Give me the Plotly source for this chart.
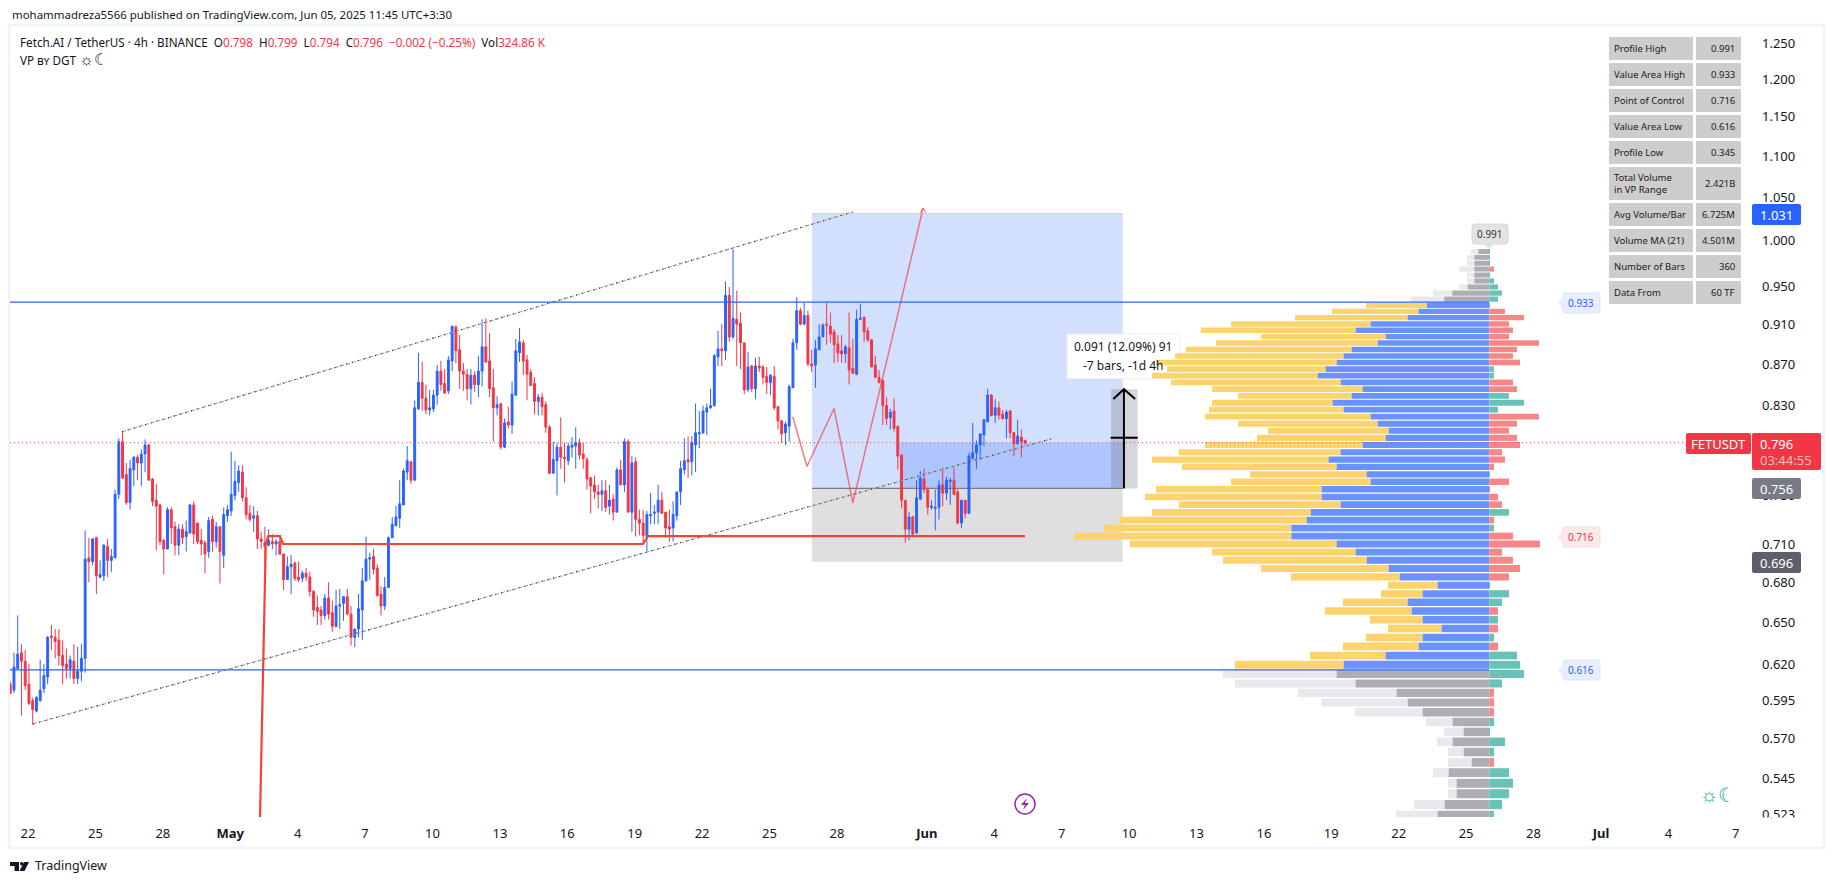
import numpy as np
import pandas as pd
import plotly.graph_objects as go

# 4h FET/USDT candles
opens = [
    .606,.602,.617,.628,.622,.606,.595,.588,.595,.603,.611,.640,.639,.637,.626,.620,.617,.622,.610,.615,
    .624,.699,.696,.715,.684,.685,.708,.697,.699,.751,.797,.768,.744,.772,.783,.778,.786,.794,.764,.746,
    .742,.713,.706,.738,.724,.709,.722,.716,.719,.742,.727,.713,.711,.704,.730,.712,.724,.701,.733,.737,
    .750,.761,.770,.748,.735,.731,.733,.714,.711,.709,.712,.710,.712,.702,.682,.692,.695,.684,.683,.687,
    .684,.673,.661,.659,.655,.668,.657,.647,.662,.664,.669,.656,.639,.645,.659,.681,.698,.700,.691,.671,
    .662,.676,.715,.725,.731,.742,.770,.779,.763,.827,.852,.837,.826,.827,.840,.863,.851,.844,.873,.907,
    .884,.863,.860,.846,.859,.850,.863,.887,.873,.847,.828,.832,.792,.815,.812,.840,.881,.891,.874,.862,
    .851,.834,.838,.831,.810,.769,.780,.792,.783,.780,.792,.793,.796,.786,.781,.765,.759,.753,.751,.754,
    .741,.747,.736,.772,.759,.797,.736,.779,.730,.727,.716,.733,.735,.736,.746,.736,.724,.723,.733,.753,
    .772,.781,.779,.794,.804,.805,.824,.828,.830,.877,.885,.883,.940,.897,.915,.911,.891,.845,.868,.846,
    .868,.867,.858,.852,.858,.829,.816,.805,.811,.847,.891,.924,.910,.919,.870,.869,.884,.897,.910,.908,
    .902,.890,.883,.880,.886,.866,.860,.915,.917,.903,.894,.869,.857,.854,.830,.819,.825,.811,.785,.746,
    .722,.732,.719,.747,.764,.755,.740,.739,.740,.759,.752,.762,.763,.753,.727,.746,.735,.782,.787,.794,
    .803,.815,.840,.821,.828,.822,.818,.825,.805,.795,.801,.798]
highs = [
    .608,.628,.655,.634,.630,.620,.597,.598,.623,.620,.640,.648,.645,.645,.637,.631,.626,.634,.632,.634,
    .721,.715,.715,.716,.697,.710,.714,.706,.755,.800,.806,.778,.781,.784,.785,.790,.799,.795,.765,.760,
    .743,.714,.740,.740,.728,.726,.726,.729,.743,.745,.727,.722,.713,.732,.733,.728,.724,.740,.742,.788,
    .780,.776,.776,.757,.742,.741,.737,.720,.724,.722,.718,.714,.716,.702,.700,.701,.696,.696,.689,.691,
    .688,.674,.670,.662,.671,.680,.666,.674,.675,.669,.675,.662,.645,.671,.691,.716,.703,.706,.694,.677,
    .684,.716,.732,.741,.763,.773,.793,.780,.835,.881,.872,.850,.845,.845,.869,.873,.865,.878,.908,.909,
    .899,.871,.865,.865,.863,.878,.915,.916,.901,.865,.839,.832,.818,.829,.853,.895,.906,.894,.879,.865,
    .857,.841,.842,.834,.812,.797,.796,.819,.796,.796,.801,.810,.800,.796,.783,.766,.767,.759,.763,.763,
    .759,.751,.774,.781,.800,.799,.784,.783,.738,.738,.737,.752,.742,.759,.753,.736,.738,.745,.753,.780,
    .800,.802,.802,.832,.825,.830,.832,.846,.880,.903,.910,.955,.949,.991,.945,.922,.891,.882,.869,.876,
    .877,.869,.867,.860,.868,.830,.816,.815,.850,.895,.938,.927,.932,.924,.884,.894,.910,.911,.932,.922,
    .905,.899,.899,.889,.922,.895,.925,.931,.918,.907,.895,.878,.864,.855,.838,.827,.837,.811,.785,.746,
    .736,.733,.763,.771,.773,.757,.746,.755,.763,.774,.766,.765,.774,.755,.746,.746,.787,.814,.798,.804,
    .817,.846,.841,.836,.834,.826,.826,.826,.806,.817,.808,.799]
lows = [
    .599,.600,.616,.585,.602,.592,.579,.587,.594,.600,.606,.630,.624,.619,.606,.610,.610,.606,.606,.608,
    .614,.680,.693,.671,.683,.681,.684,.688,.699,.747,.764,.742,.738,.758,.763,.758,.770,.763,.741,.705,
    .709,.686,.706,.710,.701,.701,.710,.704,.718,.710,.710,.701,.687,.699,.704,.707,.679,.691,.728,.733,
    .746,.753,.745,.730,.728,.720,.706,.706,.692,.708,.706,.701,.701,.674,.682,.671,.681,.680,.680,.681,
    .669,.654,.648,.648,.652,.652,.643,.646,.645,.651,.655,.633,.632,.639,.637,.681,.682,.686,.669,.655,
    .659,.676,.715,.724,.723,.742,.763,.760,.763,.826,.825,.822,.821,.824,.831,.844,.841,.841,.863,.871,
    .846,.844,.835,.831,.843,.838,.848,.871,.838,.797,.821,.790,.791,.809,.804,.839,.872,.859,.835,.849,
    .822,.821,.821,.805,.768,.769,.750,.773,.761,.776,.783,.773,.781,.773,.755,.735,.747,.739,.737,.736,
    .734,.729,.736,.759,.753,.736,.720,.716,.717,.711,.704,.726,.726,.726,.735,.715,.712,.712,.729,.742,
    .768,.765,.767,.770,.791,.804,.803,.827,.829,.868,.868,.874,.892,.895,.868,.865,.841,.843,.843,.836,
    .862,.850,.841,.840,.826,.808,.796,.794,.797,.847,.884,.909,.909,.868,.862,.847,.884,.897,.889,.891,
    .871,.872,.871,.871,.850,.860,.859,.914,.892,.892,.867,.856,.851,.812,.812,.808,.806,.772,.739,.711,
    .713,.717,.718,.746,.752,.734,.738,.721,.730,.741,.746,.742,.750,.726,.723,.731,.735,.781,.773,.781,
    .793,.815,.820,.814,.817,.817,.800,.800,.784,.795,.783,.794]
closes = [
    .600,.618,.627,.622,.605,.593,.589,.597,.602,.612,.639,.639,.636,.626,.619,.617,.623,.610,.615,.624,
    .698,.696,.714,.685,.686,.709,.697,.700,.751,.797,.765,.744,.773,.783,.778,.786,.794,.763,.745,.741,
    .712,.706,.738,.723,.709,.722,.715,.720,.742,.718,.712,.710,.702,.729,.712,.724,.704,.734,.738,.751,
    .762,.771,.748,.734,.730,.733,.714,.712,.708,.713,.710,.712,.702,.682,.692,.694,.683,.682,.687,.684,
    .673,.659,.658,.655,.668,.656,.647,.662,.663,.669,.656,.639,.645,.660,.681,.698,.699,.690,.670,.662,
    .676,.715,.726,.732,.743,.771,.780,.763,.828,.852,.837,.826,.828,.840,.863,.850,.842,.874,.908,.883,
    .863,.860,.846,.859,.850,.863,.887,.872,.846,.828,.831,.792,.814,.812,.841,.883,.892,.873,.860,.849,
    .834,.838,.829,.810,.769,.781,.792,.783,.782,.793,.794,.796,.785,.782,.764,.758,.753,.751,.754,.740,
    .746,.736,.772,.759,.797,.736,.778,.730,.727,.717,.734,.734,.736,.746,.735,.723,.722,.734,.753,.773,
    .780,.779,.796,.805,.805,.825,.828,.830,.878,.885,.883,.940,.897,.916,.910,.891,.845,.867,.846,.868,
    .866,.857,.852,.859,.828,.816,.804,.813,.848,.891,.924,.910,.919,.870,.868,.885,.897,.909,.909,.900,
    .889,.881,.880,.887,.864,.861,.915,.916,.902,.894,.867,.857,.852,.830,.818,.824,.809,.784,.746,.722,
    .732,.718,.748,.765,.755,.740,.741,.740,.759,.752,.763,.763,.751,.727,.746,.735,.784,.787,.794,.804,
    .817,.840,.821,.828,.821,.818,.824,.805,.795,.802,.797,.796]

# volume profile rows, top to bottom (relative volume)
row_price = [
    .9878,.9813,.9748,.9684,.9619,.9555,.9490,.9425,.9361,.9296,.9232,.9167,.9102,.9038,.8973,.8909,.8844,.8779,
    .8715,.8650,.8586,.8521,.8456,.8392,.8327,.8263,.8198,.8133,.8069,.8004,.7940,.7875,.7810,.7746,.7681,.7617,
    .7552,.7487,.7423,.7358,.7294,.7229,.7164,.7100,.7035,.6971,.6906,.6841,.6777,.6712,.6648,.6583,.6518,.6454,
    .6389,.6325,.6260,.6195,.6131,.6066,.6002,.5937,.5872,.5808,.5743,.5679,.5614,.5549,.5485,.5420,.5356,.5291,.5226]
up_vol = [
    33,45,45,45,45,45,65,111,135,187,212,245,356,401,311,335,413,437,458,491,515,446,380,413,470,437,356,335,302,311,
    380,446,482,458,368,356,503,503,446,536,548,594,594,458,401,368,302,269,155,200,245,233,200,143,200,212,311,437,
    458,401,278,245,200,110,77,110,77,53,122,98,98,134,155]
dn_vol = [
    22,22,22,46,22,22,26,58,100,183,260,338,419,464,374,485,497,506,542,476,497,509,452,341,362,404,497,419,362,386,
    473,485,530,464,350,419,497,530,485,476,563,562,652,620,431,431,383,326,149,125,194,260,158,161,170,227,227,326,
    341,362,296,260,203,80,59,47,47,71,47,26,26,92,125]
delta_vol = [
    2,2,2,-14,2,14,26,38,26,2,-47,-104,-59,-71,-59,-149,-83,-71,-92,14,14,-71,-83,59,104,26,-149,-83,-59,-83,
    -92,-38,-47,-14,2,-59,-2,-26,-38,59,-14,14,-71,-152,-38,-71,-92,-59,2,59,38,-26,26,-26,14,-26,83,92,
    104,38,-14,-14,-14,14,2,47,14,-14,59,71,59,38,14]

vah, poc, val = 0.933, 0.716, 0.616
last_price, target, entry, stop = 0.796, 1.031, 0.756, 0.696

# axis ticks
price_ticks = [1.25,1.2,1.15,1.1,1.05,1.0,.95,.91,.87,.83,.75,.71,.68,.65,.62,.595,.57,.545,.523]
date_ticks = ["2025-04-22","2025-04-25","2025-04-28","2025-05-01","2025-05-04","2025-05-07","2025-05-10","2025-05-13",
              "2025-05-16","2025-05-19","2025-05-22","2025-05-25","2025-05-28","2025-06-01","2025-06-04","2025-06-07",
              "2025-06-10","2025-06-13","2025-06-16","2025-06-19","2025-06-22","2025-06-25","2025-06-28","2025-07-01",
              "2025-07-04","2025-07-07"]
date_labels = ["22","25","28","<b>May</b>","4","7","10","13","16","19","22","25","28","<b>Jun</b>","4","7","10","13","16",
               "19","22","25","28","<b>Jul</b>","4","7"]

# drawn lines
channel_up_x = ["2025-04-26 04:25","2025-05-28 17:00"]
channel_up_y = [0.806,1.0329]
channel_lo_x = ["2025-04-22 05:20","2025-06-06 12:40"]
channel_lo_y = [0.5795,0.7994]
poc_x = ["2025-05-02 07:48","2025-05-02 13:55","2025-05-02 16:38","2025-05-03 05:05","2025-05-03 08:22",
         "2025-05-19 08:53","2025-05-19 14:10","2025-06-05 08:53"]
poc_y = [0.5217,0.710,0.7164,0.7164,0.710,0.710,0.7164,0.7164]
zig_x = ["2025-05-26 00:45","2025-05-26 16:00","2025-05-27 20:50","2025-05-28 17:00","2025-05-31 20:00"]
zig_y = [0.8197,0.7749,0.8274,0.7437,1.0374]

table_labels = ["Profile High","Value Area High","Point of Control","Value Area Low","Profile Low",
                "Total Volume<br>in VP Range","Avg Volume/Bar","Volume MA (21)","Number of Bars","Data From"]
table_values = ["0.991","0.933","0.716","0.616","0.345","2.421B","6.725M","4.501M","360","60 TF"]

BLUE, RED = "#2962FF", "#F23645"
FONT = "Noto Sans"
L, R, T, B = 10, 1752, 27, 817


def X(px):
    return (px - L) / (R - L)


def Y(py):
    return (B - py) / (B - T)


def label(px, py, text, size=12, color="#131722", anchor="left"):
    return dict(xref="paper", yref="paper", x=X(px), y=Y(py), text=text, showarrow=False, xanchor=anchor,
                yanchor="middle", font=dict(family=FONT, size=size, color=color), align="left")


def pill(x0, y0, x1, y1, fill, r=2, line=None):
    # rounded box in page pixels
    p = (f"M {X(x0+r)} {Y(y0)} L {X(x1-r)} {Y(y0)} Q {X(x1)} {Y(y0)} {X(x1)} {Y(y0+r)} L {X(x1)} {Y(y1-r)} "
         f"Q {X(x1)} {Y(y1)} {X(x1-r)} {Y(y1)} L {X(x0+r)} {Y(y1)} Q {X(x0)} {Y(y1)} {X(x0)} {Y(y1-r)} "
         f"L {X(x0)} {Y(y0+r)} Q {X(x0)} {Y(y0)} {X(x0+r)} {Y(y0)} Z")
    return dict(type="path", xref="paper", yref="paper", path=p, fillcolor=fill, layer="above",
                line=dict(width=1 if line else 0, color=line or fill))


times = pd.date_range(end="2025-06-05 09:00", periods=len(opens), freq="4h")
assert len(opens) == len(highs) == len(lows) == len(closes)
assert len(row_price) == len(up_vol) == len(dn_vol) == len(delta_vol)

fig = go.Figure()
fig.add_trace(go.Candlestick(
    x=times, open=opens, high=highs, low=lows, close=closes,
    increasing=dict(line=dict(color=BLUE, width=1), fillcolor=BLUE),
    decreasing=dict(line=dict(color=RED, width=1), fillcolor=RED),
    showlegend=False))

# channel: gray dashes with black dots on top
for xs, ys in [(channel_up_x, channel_up_y), (channel_lo_x, channel_lo_y)]:
    fig.add_trace(go.Scatter(x=xs, y=ys, mode="lines", line=dict(color="#A0A0A0", width=1.1, dash="4px,2px")))
    fig.add_trace(go.Scatter(x=xs, y=ys, mode="lines", line=dict(color="#222222", width=1.1, dash="1px,5px")))

fig.add_trace(go.Scatter(x=poc_x, y=poc_y, mode="lines", line=dict(color="#F44336", width=2.2)))
fig.add_trace(go.Scatter(x=zig_x, y=zig_y, mode="lines", line=dict(color="rgba(242,54,69,0.65)", width=1.5)))
# arrow head at the end of the projection
fig.add_trace(go.Scatter(x=["2025-05-31 16:48","2025-05-31 20:00","2025-05-31 23:12"], y=[1.0316,1.0374,1.0316],
                         mode="lines", line=dict(color="rgba(242,54,69,0.75)", width=1)))

# long/short measure arrow
fig.add_trace(go.Scatter(x=["2025-06-09 18:30","2025-06-09 18:30"], y=[entry,0.8456], mode="lines",
                         line=dict(color="black", width=2)))
fig.add_trace(go.Scatter(x=["2025-06-09 07:12","2025-06-09 18:30","2025-06-10 06:30"], y=[0.8363,0.8456,0.8363],
                         mode="lines", line=dict(color="black", width=2)))
fig.add_trace(go.Scatter(x=["2025-06-09 04:20","2025-06-10 09:14"], y=[0.8005,0.8005], mode="lines",
                         line=dict(color="black", width=2)))

# volume profile on its own x axis
in_va = [val < p < vah for p in row_price]
up_col = ["#6A92FF" if v else "#ADAEB3" for v in in_va]
dn_col = ["#FDD36D" if v else "#E8E9ED" for v in in_va]
delta_col = ["#69C2B8" if d > 0 else "#F78787" for d in delta_vol]
bar_h = 0.0055
fig.add_trace(go.Bar(y=row_price, x=[-u for u in dn_vol], base=[-u for u in up_vol], orientation="h", width=bar_h,
                     marker=dict(color=dn_col, line_width=0), xaxis="x2"))
fig.add_trace(go.Bar(y=row_price, x=[-u for u in up_vol], base=0, orientation="h", width=bar_h,
                     marker=dict(color=up_col, line_width=0), xaxis="x2"))
fig.add_trace(go.Bar(y=row_price, x=[abs(d) for d in delta_vol], base=0, orientation="h", width=bar_h,
                     marker=dict(color=delta_col, line_width=0), xaxis="x2"))

zone_x0, zone_x1 = "2025-05-26 21:20", "2025-06-09 17:16"
shapes = [
    dict(type="rect", x0=zone_x0, x1=zone_x1, y0=entry, y1=target, fillcolor="#D3E0FD", line_width=0, layer="below"),
    dict(type="rect", x0="2025-05-30 19:12", x1=zone_x1, y0=entry, y1=last_price, fillcolor="#AEC5FD", line_width=0, layer="below"),
    dict(type="rect", x0=zone_x0, x1=zone_x1, y0=stop, y1=entry, fillcolor="#DFDFE1", line_width=0, layer="below"),
    dict(type="line", x0=zone_x0, x1=zone_x1, y0=target, y1=target, line=dict(color="#EBC8D2", width=1), layer="below"),
    dict(type="rect", x0="2025-06-09 04:48", x1="2025-06-10 09:14", y0=entry, y1=0.8456,
         fillcolor="rgba(120,123,134,0.3)", line_width=0, layer="below"),
    dict(type="line", x0=zone_x0, x1=zone_x1, y0=entry, y1=entry, line=dict(color="#787B86", width=1.3), layer="below"),
    dict(type="line", xref="paper", x0=0, x1=1, y0=last_price, y1=last_price, layer="above",
         line=dict(color=RED, width=1, dash="1px,3px")),
]
for level in (vah, val):
    shapes.append(dict(type="line", x0="2025-04-20", x1="2025-06-26 00:30", y0=level, y1=level,
                       line=dict(color=BLUE, width=1.2), layer="above"))

# tooltip box sits under the profile bars
shapes.append(dict(type="rect", x0="2025-06-07 05:45", x1="2025-06-12 06:30", y0=0.8557, y1=0.90,
                   fillcolor="white", line=dict(color="#EEEEEE", width=1), layer="below"))

# page frame and clip under the price axis
shapes.append(dict(type="rect", xref="paper", yref="paper", x0=X(L-1), x1=X(1824), y0=Y(848), y1=Y(25),
                   line=dict(color="#F0F3FA", width=2.5), layer="below"))
shapes.append(dict(type="rect", xref="paper", yref="paper", x0=X(1753), x1=X(1815), y0=Y(824), y1=Y(817.5),
                   fillcolor="white", line_width=0, layer="above"))

# price labels on the axis
shapes += [pill(1752, 204, 1801, 225, BLUE), pill(1752, 478, 1801, 499, "#787B86"), pill(1752, 552, 1801, 573, "#5D606B"),
           pill(1752, 433, 1821, 470, RED), pill(1686, 433, 1751, 454, RED)]

# value-area level tags
for py, fill, edge in [(303, "#E8EEFE", "#D8E2FD"), (537, "#FDE8EA", "#FBDADD"), (670, "#E8EEFE", "#D8E2FD")]:
    shapes.append(pill(1563, py-10, 1600, py+10, fill, r=3, line=edge))
    shapes.append(dict(type="path", xref="paper", yref="paper", fillcolor=fill, line_width=0, layer="above",
                       path=f"M {X(1563)} {Y(py-5)} L {X(1557)} {Y(py)} L {X(1563)} {Y(py+5)} Z"))
shapes.append(pill(1472, 224, 1508, 244, "#E3E3E3", r=3, line="#D8D8D8"))
shapes.append(dict(type="path", xref="paper", yref="paper", fillcolor="#E3E3E3", line_width=0, layer="above",
                   path=f"M {X(1484)} {Y(244)} L {X(1489)} {Y(249)} L {X(1494)} {Y(244)} Z"))

# stats table
row_tops = [37, 63, 89, 115, 141, 167, 203, 229, 255, 281]
row_bots = [60, 86, 112, 138, 164, 200, 226, 252, 278, 304]
anns = []
for top, bot, name, val_txt in zip(row_tops, row_bots, table_labels, table_values):
    for x0, x1 in [(1609, 1693), (1696, 1741)]:
        shapes.append(dict(type="rect", xref="paper", yref="paper", x0=X(x0), x1=X(x1), y0=Y(bot), y1=Y(top),
                           fillcolor="#CDCDCD", line_width=0, layer="above"))
    anns.append(label(1612, (top+bot)/2, name, size=9.5, color="#1a1a1a"))
    anns.append(label(1737, (top+bot)/2, val_txt, size=9.5, color="#1a1a1a", anchor="right"))

# lightning icon
shapes.append(dict(type="circle", xref="paper", yref="paper", x0=X(1015), x1=X(1035), y0=Y(814), y1=Y(794),
                   line=dict(color="#9C27B0", width=1.5), layer="above"))
shapes.append(dict(type="path", xref="paper", yref="paper", fillcolor="#9C27B0", line_width=0, layer="above",
                   path=f"M {X(1027)} {Y(798)} L {X(1021)} {Y(805)} L {X(1025)} {Y(805)} L {X(1023)} {Y(810)} "
                        f"L {X(1029)} {Y(803)} L {X(1025)} {Y(803)} Z"))
# TradingView mark
shapes.append(dict(type="path", xref="paper", yref="paper", fillcolor="#131722", line_width=0, layer="above",
                   path=f"M {X(10)} {Y(862)} L {X(19)} {Y(862)} L {X(19)} {Y(871)} L {X(14.5)} {Y(871)} L {X(14.5)} {Y(866)} "
                        f"L {X(10)} {Y(866)} Z"))
shapes.append(dict(type="path", xref="paper", yref="paper", fillcolor="#131722", line_width=0, layer="above",
                   path=f"M {X(24)} {Y(862)} L {X(29)} {Y(862)} L {X(24.5)} {Y(871)} L {X(19.5)} {Y(871)} Z"))
shapes.append(dict(type="circle", xref="paper", yref="paper", x0=X(20), x1=X(23.4), y0=Y(865.5), y1=Y(862),
                   fillcolor="#131722", line_width=0, layer="above"))

anns += [
    label(10, 15, "mohammadreza5566 published on TradingView.com, Jun 05, 2025 11:45 UTC+3:30", size=11.45),
    label(18, 42, f"Fetch.AI / TetherUS · 4h · BINANCE  O<span style='color:{RED}'>0.798</span>  "
                  f"H<span style='color:{RED}'>0.799</span>  L<span style='color:{RED}'>0.794</span>  "
                  f"C<span style='color:{RED}'>0.796  −0.002 (−0.25%)</span>  Vol<span style='color:{RED}'>324.86 K</span>", size=11.7),
    label(18, 59, "VP ʙʏ DGT <span style='font-size:16px'>☼☾</span>", size=11.7),
    label(1776, 215, "1.031", size=13, color="white", anchor="center"),
    label(1776, 489, "0.756", size=13, color="white", anchor="center"),
    label(1776, 563, "0.696", size=13, color="white", anchor="center"),
    label(1776, 444, "0.796", size=13, color="white", anchor="center"),
    label(1786, 460, "03:44:55", size=13, color="#FBB8BE", anchor="center"),
    label(1718, 444, "FETUSDT", size=13, color="white", anchor="center"),
    label(1490, 234, "0.991", size=10, color="#333333", anchor="center"),
    label(1581, 303, "0.933", size=10, color=BLUE, anchor="center"),
    label(1581, 537, "0.716", size=10, color=RED, anchor="center"),
    label(1581, 670, "0.616", size=10, color=BLUE, anchor="center"),
    label(1123, 346, "0.091 (12.09%) 91", size=12, anchor="center"),
    label(1123, 366, "-7 bars, -1d 4h", size=12, anchor="center"),
    label(1718, 794, "☼☾", size=20, color="#26A69A", anchor="center"),
    label(33, 866, "TradingView", size=12.5, color="#131722"),
]

fig.update_layout(
    width=1835, height=884, margin=dict(l=L, r=1835-R, t=T, b=884-B),
    paper_bgcolor="white", plot_bgcolor="white", showlegend=False, barmode="overlay", boxgap=0.28,
    font=dict(family=FONT, size=13, color="#131722"), shapes=shapes, annotations=anns,
    xaxis=dict(type="date", range=["2025-04-21 04:46", "2025-07-07 17:20"], tickmode="array", tickvals=date_ticks,
               ticktext=date_labels, showgrid=False, zeroline=False, showline=False, ticks="",
               rangeslider_visible=False, tickangle=0, ticklabelstandoff=7),
    xaxis2=dict(overlaying="x", range=[-(1489.3-L)*3, (R-1489.3)*3], visible=False),
    yaxis=dict(type="log", range=[np.log10(0.5217), np.log10(1.2727)], side="right", tickmode="array", tickvals=price_ticks,
               ticktext=[f"{p:.3f}" for p in price_ticks], showgrid=False, zeroline=False, showline=False, ticks="",
               ticklabelstandoff=9),
)

fig.write_html("out.html", config={"displayModeBar": False},
               post_script="document.body.style.margin='0';document.body.style.overflow='hidden';")
